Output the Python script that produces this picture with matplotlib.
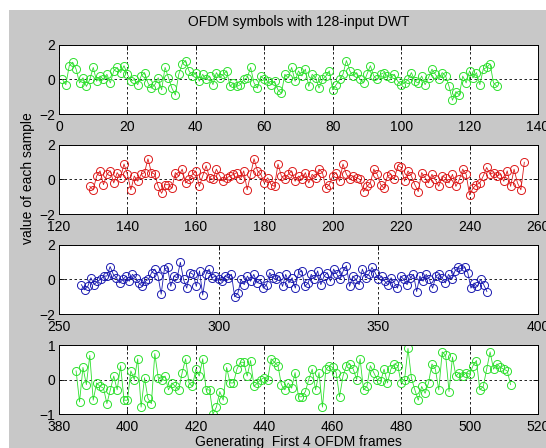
import numpy as np
import matplotlib
matplotlib.use("Agg")
import matplotlib.pyplot as plt
from matplotlib.patches import Rectangle

plt.rcParams['font.family'] = ['Liberation Sans', 'DejaVu Sans']

# ---- data ----
frame1 = [0.0, -0.3, 0.8, 1.0, 0.6, -0.2, 0.1, -0.4, 0.0, 0.7,
          -0.1, 0.2, 0.0, 0.3, -0.2, 0.5, 0.7, 0.4, 0.8, 0.3,
          -0.1, 0.0, -0.3, 0.2, 0.4, -0.2, -0.5, -0.3, 0.1, -0.6,
          0.7, 0.1, -0.5, -0.9, 0.3, 0.9, 1.1, 0.5, 0.2, 0.4,
          -0.1, 0.3, 0.0, 0.2, -0.3, 0.4, 0.1, 0.3, 0.5, -0.4,
          -0.2, -0.4, -0.3, 0.0, 0.1, 0.7, -0.2, -0.5, 0.2, 0.0,
          -0.1, -0.3, -0.1, -0.6, -0.8, 0.3, 0.1, 0.7, -0.1, 0.5,
          0.2, 0.6, -0.4, 0.3, 0.1, -0.5, 0.0, 0.2, 0.5, -0.6,
          -0.3, 0.0, 0.3, 1.1, 0.5, 0.2, 0.4, 0.0, -0.2, 0.3,
          0.8, 0.2, 0.0, 0.3, 0.4, 0.2, 0.1, 0.3, -0.1, -0.3,
          -0.2, 0.0, 0.4, -0.1, -0.2, 0.2, -0.3, 0.1, 0.6, 0.3,
          0.0, 0.4, 0.2, -0.4, -1.2, -0.7, -0.9, 0.2, -0.2, 0.5,
          0.1, 0.4, -0.3, 0.6, 0.7, 0.9, -0.2, -0.4]
frame2 = [-0.4, -0.6, 0.2, 0.5, -0.3, 0.3, 0.5, -0.2, 0.4, 0.1,
          0.9, 0.3, -0.6, 0.2, -0.1, 0.3, 0.4, 1.2, 0.4, 0.3,
          -0.4, -0.8, -0.3, -0.3, -0.5, 0.4, 0.2, 0.6, -0.2, 0.0,
          0.3, 0.5, -0.4, 0.2, 0.8, 0.1, 0.0, 0.6, 0.2, -0.1,
          0.1, 0.2, 0.3, 0.4, 0.0, 0.5, -0.6, 0.3, 1.2, 0.5,
          0.3, -0.2, 0.1, -0.3, -0.4, 0.9, 0.2, 0.0, 0.3, 0.5,
          -0.1, 0.2, 0.0, 0.4, -0.2, 0.3, 0.1, 0.6, 0.4, -0.5,
          -0.3, 0.2, 0.4, -0.1, 0.9, 0.3, 0.0, 0.2, 0.1, 0.0,
          -0.7, -0.4, -0.2, 0.6, 0.3, -0.3, -0.5, 0.2, 0.3, 0.0,
          0.8, 0.7, -0.1, 0.5, 0.2, -0.3, -0.7, 0.4, 0.1, -0.2,
          0.3, 0.0, -0.4, 0.2, 0.1, -0.2, 0.3, -0.4, 0.0, 0.6,
          0.3, -0.9, -0.5, -0.3, -0.2, 0.2, 0.7, 0.3, 0.4, 0.2,
          0.3, -0.1, 0.5, -0.4, 0.6, -0.2, -0.6, 1.0]
frame3 = [-0.3, -0.6, -0.4, 0.1, -0.3, -0.1, 0.0, 0.2, 0.2, 0.75,
          0.3, 0.1, -0.2, 0.0, 0.2, -0.1, 0.3, 0.1, -0.2, -0.4,
          -0.1, 0.0, 0.4, 0.6, 0.2, -0.85, 0.6, 0.7, -0.4, 0.2,
          0.1, 1.0, 0.0, -0.5, 0.4, 0.3, -0.4, 0.5, -0.9, 0.3,
          0.6, 0.1, 0.2, 0.0, -0.1, 0.2, 0.1, 0.3, -1.0, -0.8,
          0.0, -0.3, 0.2, -0.1, 0.3, -0.2, 0.0, -0.5, -0.3, 0.4,
          0.1, 0.0, 0.2, -0.4, 0.3, -0.2, 0.1, -0.5, 0.4, 0.5,
          -0.4, -0.2, 0.3, 0.0, 0.5, -0.3, 0.2, 0.4, -0.1, 0.6,
          0.3, 0.0, 0.5, 0.8, -0.4, 0.2, 0.0, -0.3, 0.6, 0.1,
          0.3, 0.7, 0.4, 0.0, 0.2, -0.1, -0.3, 0.1, -0.2, -0.5,
          0.2, 0.0, -0.3, 0.1, 0.3, -0.7, 0.2, -0.1, 0.3, 0.0,
          -0.5, 0.2, 0.3, 0.1, -0.2, 0.3, 0.0, 0.5, 0.7, 0.6,
          0.7, 0.4, -0.5, -0.2, -0.4, 0.0, -0.3, -0.7]
frame4 = [0.25, -0.65, 0.35, -0.15, 0.7, -0.6, -0.1, -0.2, -0.25, -0.7,
          -0.3, 0.1, -0.3, 0.4, -0.6, -0.6, 0.25, 0.0, 0.6, -0.8,
          0.05, -0.55, -0.7, 0.75, 0.05, 0.0, 0.1, -0.3, -0.1, -0.2,
          -0.3, 0.2, 0.6, -0.1, -0.2, 0.3, 0.1, 0.6, -0.3, -0.3,
          -1.0, -0.8, -0.35, -0.6, 0.35, -0.1, -0.1, 0.3, 0.5, 0.5,
          0.1, 0.55, -0.2, -0.1, 0.0, 0.05, 0.0, 0.6, 0.5, 0.4,
          -0.15, -0.3, -0.1, -0.25, 0.2, -0.5, -0.5, -0.35, 0.0, 0.3,
          -0.3, 0.2, -0.8, 0.3, 0.4, 0.35, 0.2, -0.5, 0.1, 0.4,
          0.45, 0.3, 0.0, 0.6, -0.3, -0.2, 0.4, 0.2, 0.0, -0.05,
          0.3, -0.1, 0.3, 0.45, 0.4, -0.1, 0.0, 0.9, 0.05, -0.3,
          -0.6, -0.2, -0.4, -0.1, 0.45, 0.3, -0.3, 0.8, 0.7, -0.35,
          0.65, 0.1, 0.2, 0.1, 0.2, 0.15, 0.4, 0.55, -0.3, -0.2,
          0.3, 0.8, 0.3, 0.45, 0.35, 0.3, 0.25, -0.15]

frames = [frame1, frame2, frame3, frame4]
starts = [1, 129, 257, 385]
colors = ['#2ee02e', '#dd1a1a', '#1a1ab0', '#2ee02e']
xlims = [(0, 140), (120, 260), (250, 400), (380, 520)]
xticks = [np.arange(0, 141, 20), np.arange(120, 261, 20),
          np.arange(250, 401, 50), np.arange(380, 521, 20)]
ylims = [(-2, 2), (-2, 2), (-2, 2), (-1, 1)]
yticks = [[-2, 0, 2], [-2, 0, 2], [-2, 0, 2], [-1, 0, 1]]

W, H = 546, 448
FS = 10
fig = plt.figure(figsize=(W / 100, H / 100), dpi=100, facecolor='white')
# grey MATLAB figure area (screenshot has a thin white border top/left)
fig.patches.append(Rectangle((9 / W, 0), 1, 1 - 10 / H, transform=fig.transFigure,
                             facecolor='#c8c8c8', edgecolor='none', zorder=-10))

tops = [45, 145, 245, 345]
hgt = 69
left_px, right_px = 59, 538

axes = []
for i, top in enumerate(tops):
    bot = top + hgt
    ax = fig.add_axes([left_px / W, 1 - bot / H, (right_px - left_px) / W, hgt / H])
    axes.append(ax)
    vals = np.array(frames[i])
    x = np.arange(starts[i], starts[i] + len(vals))
    ax.plot(x, vals, '-o', color=colors[i], lw=0.6, markersize=5.8,
            markerfacecolor='none', markeredgewidth=0.7)
    ax.set_xlim(*xlims[i])
    ax.set_ylim(*ylims[i])
    ax.set_xticks(xticks[i])
    ax.set_yticks(yticks[i])
    ax.grid(True, color='black', linestyle=(0, (3, 3)), linewidth=0.6)
    ax.tick_params(direction='in', length=3.5, width=0.6, top=True, right=True,
                   labelsize=FS)
    ax.tick_params(axis='x', pad=4)
    ax.tick_params(axis='y', pad=2.5)
    for s in ax.spines.values():
        s.set_linewidth(0.7)
    ax.set_facecolor('white')

cx = (left_px + right_px) / 2 / W
fig.text(cx, 1 - 22 / H, 'OFDM symbols with 128-input DWT',
         ha='center', va='center', fontsize=FS)
fig.text(cx, 1 - 442 / H, 'Generating  First 4 OFDM frames',
         ha='center', va='center', fontsize=FS)
fig.text(28 / W, 1 - 178 / H, 'value of each sample', rotation=90,
         ha='center', va='center', fontsize=FS)

fig.savefig('out.png', dpi=100, facecolor=fig.get_facecolor())
